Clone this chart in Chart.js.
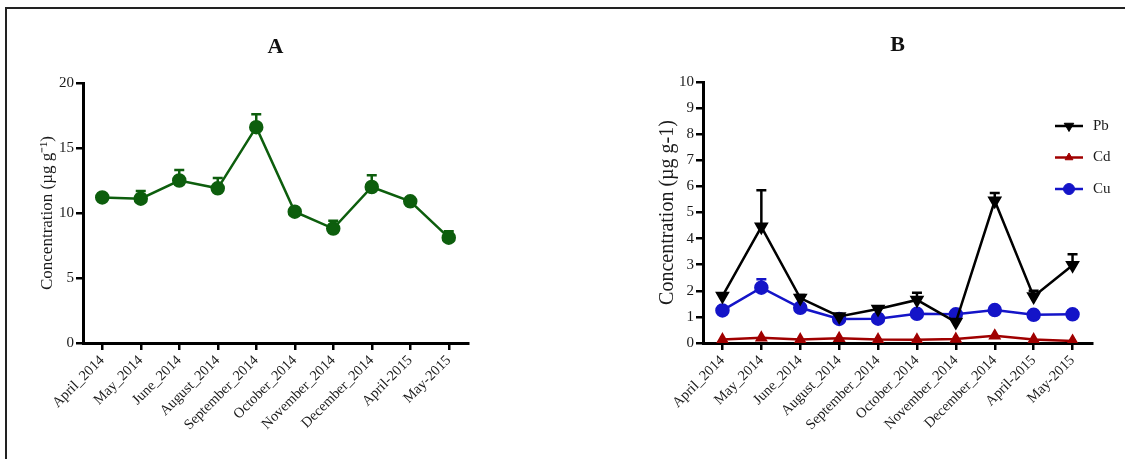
<!DOCTYPE html>
<html>
<head>
<meta charset="utf-8">
<script src="https://cdn.jsdelivr.net/npm/chart.js@4"></script>
<style>
  body { margin: 0; background: #fff; width: 1125px; height: 459px; overflow: hidden; position: relative; }
  #frame { position: absolute; left: 5px; top: 7px; width: 1140px; height: 470px; border-left: 2px solid #222; border-top: 2px solid #222; }
  #chartA { position: absolute; left: 0; top: 0; }
  #chartB { position: absolute; left: 600px; top: 0; }
</style>
</head>
<body>
<div id="frame"></div>
<canvas id="chartA" width="520" height="459"></canvas>
<canvas id="chartB" width="525" height="459"></canvas>
<script>
const months = ['April_2014', 'May_2014', 'June_2014', 'August_2014', 'September_2014',
  'October_2014', 'November_2014', 'December_2014', 'April-2015', 'May-2015'];

// panel A
const totalConc = [11.2, 11.1, 12.5, 11.9, 16.6, 10.1, 8.8, 12.0, 10.9, 8.1];
const totalErr = [0.1, 0.6, 0.8, 0.8, 1.0, 0.1, 0.6, 0.9, 0.1, 0.5];

// panel B
const pbConc = [1.8, 4.45, 1.72, 1.02, 1.3, 1.65, 0.8, 5.45, 1.78, 2.98];
const pbErr = [0, 1.4, 0.12, 0.05, 0.05, 0.28, 0, 0.3, 0.22, 0.42];
const cdConc = [0.13, 0.2, 0.13, 0.18, 0.13, 0.12, 0.15, 0.28, 0.13, 0.08];
const cdErr = [0, 0, 0, 0, 0, 0, 0, 0, 0, 0];
const cuConc = [1.25, 2.12, 1.35, 0.92, 0.93, 1.12, 1.1, 1.26, 1.08, 1.1];
const cuErr = [0, 0.32, 0, 0, 0, 0, 0, 0, 0, 0.15];

const serif = '"Liberation Serif", "Times New Roman", serif';
const inkColor = '#1a1a1a';

// upper error bars with a cap, drawn under the markers
const errorBars = {
  id: 'errorBars',
  beforeDatasetsDraw(chart) {
    const c = chart.ctx;
    const xs = chart.scales.x, ys = chart.scales.y;
    chart.data.datasets.forEach(ds => {
      if (!ds.errUp) return;
      c.save();
      c.strokeStyle = ds.borderColor;
      c.lineWidth = 2.5;
      ds.data.forEach((v, j) => {
        const e = ds.errUp[j];
        if (!e) return;
        const x = xs.getPixelForValue(j);
        const y0 = ys.getPixelForValue(v);
        const y1 = ys.getPixelForValue(v + e);
        c.beginPath();
        c.moveTo(x, y0);
        c.lineTo(x, y1);
        c.moveTo(x - 5, y1);
        c.lineTo(x + 5, y1);
        c.stroke();
      });
      c.restore();
    });
  }
};

// legend of panel B: short line with the marker, label to the right
const sideLegend = {
  id: 'sideLegend',
  afterDraw(chart, args, opts) {
    if (!opts.show) return;
    const c = chart.ctx;
    chart.data.datasets.forEach((ds, i) => {
      const y = opts.top + i * opts.gap;
      c.save();
      c.strokeStyle = ds.borderColor;
      c.fillStyle = ds.pointBackgroundColor;
      c.lineWidth = 2.5;
      c.beginPath();
      c.moveTo(opts.left, y);
      c.lineTo(opts.left + 28, y);
      c.stroke();
      c.lineWidth = 1;
      Chart.helpers.drawPoint(c, {
        pointStyle: ds.pointStyle,
        rotation: ds.pointRotation || 0,
        radius: ds.pointRadius - 0.5,
        borderWidth: 1
      }, opts.left + 14, y);
      c.fillStyle = inkColor;
      c.font = '15px ' + serif;
      c.textBaseline = 'middle';
      c.fillText(ds.label, opts.left + 38, y);
      c.restore();
    });
  }
};

function series(label, data, err, color, style, rotation, radius) {
  return {
    label: label,
    data: data,
    errUp: err,
    borderColor: color,
    backgroundColor: color,
    pointBackgroundColor: color,
    pointBorderColor: color,
    pointStyle: style,
    pointRotation: rotation,
    pointRadius: radius,
    borderWidth: 2.5,
    tension: 0
  };
}

function axisOptions(yMax, yStep, yWidth, yTitle, titleSize, titlePad) {
  return {
    x: {
      type: 'category',
      offset: true,
      afterFit(scale) { scale.height = 116; },
      grid: { display: true, drawOnChartArea: false, drawTicks: true, tickLength: 7, color: '#000', lineWidth: 2.5 },
      border: { display: true, color: '#000', width: 3 },
      ticks: { autoSkip: false, minRotation: 45, maxRotation: 45, padding: 2, color: inkColor, font: { family: serif, size: 14.5 } }
    },
    y: {
      min: 0,
      max: yMax,
      afterFit(scale) { scale.width = yWidth; },
      grid: { display: true, drawOnChartArea: false, drawTicks: true, tickLength: 7, color: '#000', lineWidth: 2.5 },
      border: { display: true, color: '#000', width: 3 },
      ticks: { stepSize: yStep, padding: 2, color: inkColor, font: { family: serif, size: 15 } },
      title: { display: true, text: yTitle, color: inkColor, padding: { top: titlePad, bottom: 0 }, font: { family: serif, size: titleSize } }
    }
  };
}

function panelTitle(text, top, bottom) {
  return {
    display: true,
    text: text,
    fullSize: false,
    color: '#111',
    padding: { top: top, bottom: bottom },
    font: { family: serif, size: 22, weight: 'bold' }
  };
}

new Chart(document.getElementById('chartA'), {
  type: 'line',
  data: {
    labels: months,
    datasets: [series('Total', totalConc, totalErr, '#0d5e0d', 'circle', 0, 6)]
  },
  options: {
    responsive: false,
    animation: false,
    layout: { padding: { left: 0, right: 52, top: 0, bottom: 0 } },
    scales: axisOptions(20, 5, 83, 'Concentration (µg g⁻¹)', 17, 37),
    plugins: {
      legend: { display: false },
      tooltip: { enabled: false },
      title: panelTitle('A', 34, 22.6),
      sideLegend: { show: false }
    }
  },
  plugins: [errorBars, sideLegend]
});

new Chart(document.getElementById('chartB'), {
  type: 'line',
  data: {
    labels: months,
    datasets: [
      series('Pb', pbConc, pbErr, '#000000', 'triangle', 180, 6),
      series('Cd', cdConc, cdErr, '#a00000', 'triangle', 0, 5),
      series('Cu', cuConc, cuErr, '#1414c8', 'circle', 0, 6)
    ]
  },
  options: {
    responsive: false,
    animation: false,
    layout: { padding: { left: 0, right: 33, top: 0, bottom: 0 } },
    scales: axisOptions(10, 1, 103, 'Concentration (µg g-1)', 20, 56),
    plugins: {
      legend: { display: false },
      tooltip: { enabled: false },
      title: panelTitle('B', 32, 23.6),
      sideLegend: { show: true, left: 455, top: 126, gap: 31.5 }
    }
  },
  plugins: [errorBars, sideLegend]
});
</script>
</body>
</html>
